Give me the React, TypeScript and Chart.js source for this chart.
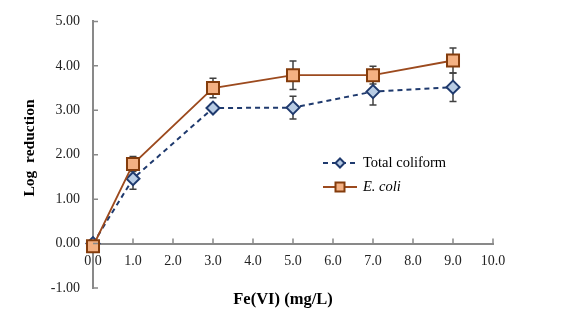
import React, { useEffect, useRef } from "react";
import { Chart, registerables } from "chart.js";

Chart.register(...registerables);

const doses = [0, 1, 3, 5, 7, 9];
const coliform = [0, 1.46, 3.05, 3.06, 3.42, 3.52];
const coliformErr = [0.04, 0.24, 0.08, 0.255, 0.3, 0.32];
const ecoli = [-0.06, 1.79, 3.5, 3.79, 3.79, 4.12];
const ecoliErr = [0.02, 0.17, 0.22, 0.32, 0.2, 0.28];
const seriesNames = ["Total coliform", "E. coli"];
const xTitle = "Fe(VI) (mg/L)";
const yTitle = "Log  reduction";

const FONT = "'Liberation Serif', 'Times New Roman', serif";

const errorBars = {
  id: "errorBars",
  beforeDatasetsDraw(chart: any) {
    const ctx = chart.ctx;
    const xs = chart.scales.x;
    const ys = chart.scales.y;
    const sets = [
      { v: coliform, e: coliformErr },
      { v: ecoli, e: ecoliErr },
    ];
    ctx.save();
    ctx.strokeStyle = "#404040";
    ctx.lineWidth = 1.5;
    sets.forEach((s) => {
      doses.forEach((d, i) => {
        const px = xs.getPixelForValue(d);
        const top = ys.getPixelForValue(s.v[i] + s.e[i]);
        const bot = ys.getPixelForValue(s.v[i] - s.e[i]);
        ctx.beginPath();
        ctx.moveTo(px, top);
        ctx.lineTo(px, bot);
        ctx.moveTo(px - 3.5, top);
        ctx.lineTo(px + 3.5, top);
        ctx.moveTo(px - 3.5, bot);
        ctx.lineTo(px + 3.5, bot);
        ctx.stroke();
      });
    });
    ctx.restore();
  },
};

const decor = {
  id: "decor",
  afterDraw(chart: any) {
    const ctx = chart.ctx;
    const xs = chart.scales.x;
    const ys = chart.scales.y;
    const left = chart.chartArea.left;
    const y0 = ys.getPixelForValue(0);
    ctx.save();
    // inside tick marks
    ctx.strokeStyle = "#898989";
    ctx.lineWidth = 1.5;
    ctx.beginPath();
    for (let v = -1; v <= 5; v++) {
      const py = ys.getPixelForValue(v);
      ctx.moveTo(left, py);
      ctx.lineTo(left + 5, py);
    }
    for (let v = 1; v <= 10; v++) {
      const px = xs.getPixelForValue(v);
      ctx.moveTo(px, y0);
      ctx.lineTo(px, y0 - 5);
    }
    ctx.stroke();

    // axis titles
    ctx.fillStyle = "#000";
    ctx.font = `bold 16.5px ${FONT}`;
    ctx.textAlign = "center";
    ctx.textBaseline = "middle";
    ctx.fillText(xTitle, 283, 300);
    ctx.save();
    ctx.translate(30, 148);
    ctx.rotate(-Math.PI / 2);
    ctx.font = `bold 15.5px ${FONT}`;
    ctx.fillText(yTitle, 0, 0);
    ctx.restore();

    // legend
    const lx0 = 323, lx1 = 357, mx = 340;
    const r1 = 163, r2 = 187;
    ctx.strokeStyle = "#1F3A6E";
    ctx.lineWidth = 2;
    ctx.setLineDash([5, 4]);
    ctx.beginPath();
    ctx.moveTo(lx0, r1);
    ctx.lineTo(lx1, r1);
    ctx.stroke();
    ctx.setLineDash([]);
    ctx.beginPath();
    ctx.moveTo(mx, r1 - 4.5);
    ctx.lineTo(mx + 4.5, r1);
    ctx.lineTo(mx, r1 + 4.5);
    ctx.lineTo(mx - 4.5, r1);
    ctx.closePath();
    ctx.fillStyle = "#B8CCE4";
    ctx.fill();
    ctx.stroke();

    ctx.strokeStyle = "#9C4A1E";
    ctx.lineWidth = 1.8;
    ctx.beginPath();
    ctx.moveTo(lx0, r2);
    ctx.lineTo(lx1, r2);
    ctx.stroke();
    ctx.fillStyle = "#F4B183";
    ctx.strokeStyle = "#843C0C";
    ctx.lineWidth = 2;
    ctx.fillRect(mx - 4.5, r2 - 4.5, 9, 9);
    ctx.strokeRect(mx - 4.5, r2 - 4.5, 9, 9);

    ctx.fillStyle = "#000";
    ctx.textAlign = "left";
    ctx.font = `14.5px ${FONT}`;
    ctx.fillText(seriesNames[0], 363, r1);
    ctx.font = `italic 14.5px ${FONT}`;
    ctx.fillText(seriesNames[1], 363, r2);
    ctx.restore();
  },
};

export default function App() {
  const ref = useRef<HTMLCanvasElement>(null);
  useEffect(() => {
    document.body.style.margin = "0";
    const chart = new Chart(ref.current as HTMLCanvasElement, {
      type: "line",
      data: {
        datasets: [
          {
            label: seriesNames[0],
            data: doses.map((x, i) => ({ x, y: coliform[i] })),
            borderColor: "#1F3A6E",
            borderWidth: 2,
            borderDash: [5, 4],
            pointStyle: "rectRot",
            pointRadius: 6.5,
            pointBackgroundColor: "#B8CCE4",
            pointBorderColor: "#1F3A6E",
            pointBorderWidth: 2,
            tension: 0,
            clip: false,
            order: 1,
          } as any,
          {
            label: seriesNames[1],
            data: doses.map((x, i) => ({ x, y: ecoli[i] })),
            borderColor: "#9C4A1E",
            borderWidth: 1.8,
            pointStyle: "rect",
            pointRadius: 8.5,
            pointBackgroundColor: "#F4B183",
            pointBorderColor: "#843C0C",
            pointBorderWidth: 2,
            tension: 0,
            clip: false,
            order: 0,
          } as any,
        ],
      },
      options: {
        responsive: false,
        animation: false,
        layout: { padding: { top: 16, bottom: 39, right: 72, left: 0 } },
        plugins: { legend: { display: false }, tooltip: { enabled: false } },
        scales: {
          x: {
            type: "linear",
            position: { y: 0 } as any,
            min: 0,
            max: 10,
            grid: { drawOnChartArea: false, drawTicks: false },
            border: { color: "#898989", width: 2 },
            ticks: {
              stepSize: 1,
              padding: 9,
              color: "#222",
              font: { family: FONT, size: 14 },
              callback: (v: any) => Number(v).toFixed(1),
            },
          },
          y: {
            min: -1,
            max: 5,
            afterFit: (s: any) => {
              s.width = 93;
            },
            grid: { drawOnChartArea: false, drawTicks: false },
            border: { color: "#898989", width: 2 },
            ticks: {
              stepSize: 1,
              padding: 13,
              color: "#222",
              font: { family: FONT, size: 14 },
              callback: (v: any) => Number(v).toFixed(2),
            },
          },
        },
      },
      plugins: [errorBars, decor],
    });
    return () => chart.destroy();
  }, []);
  return <canvas ref={ref} width={565} height={327} />;
}
